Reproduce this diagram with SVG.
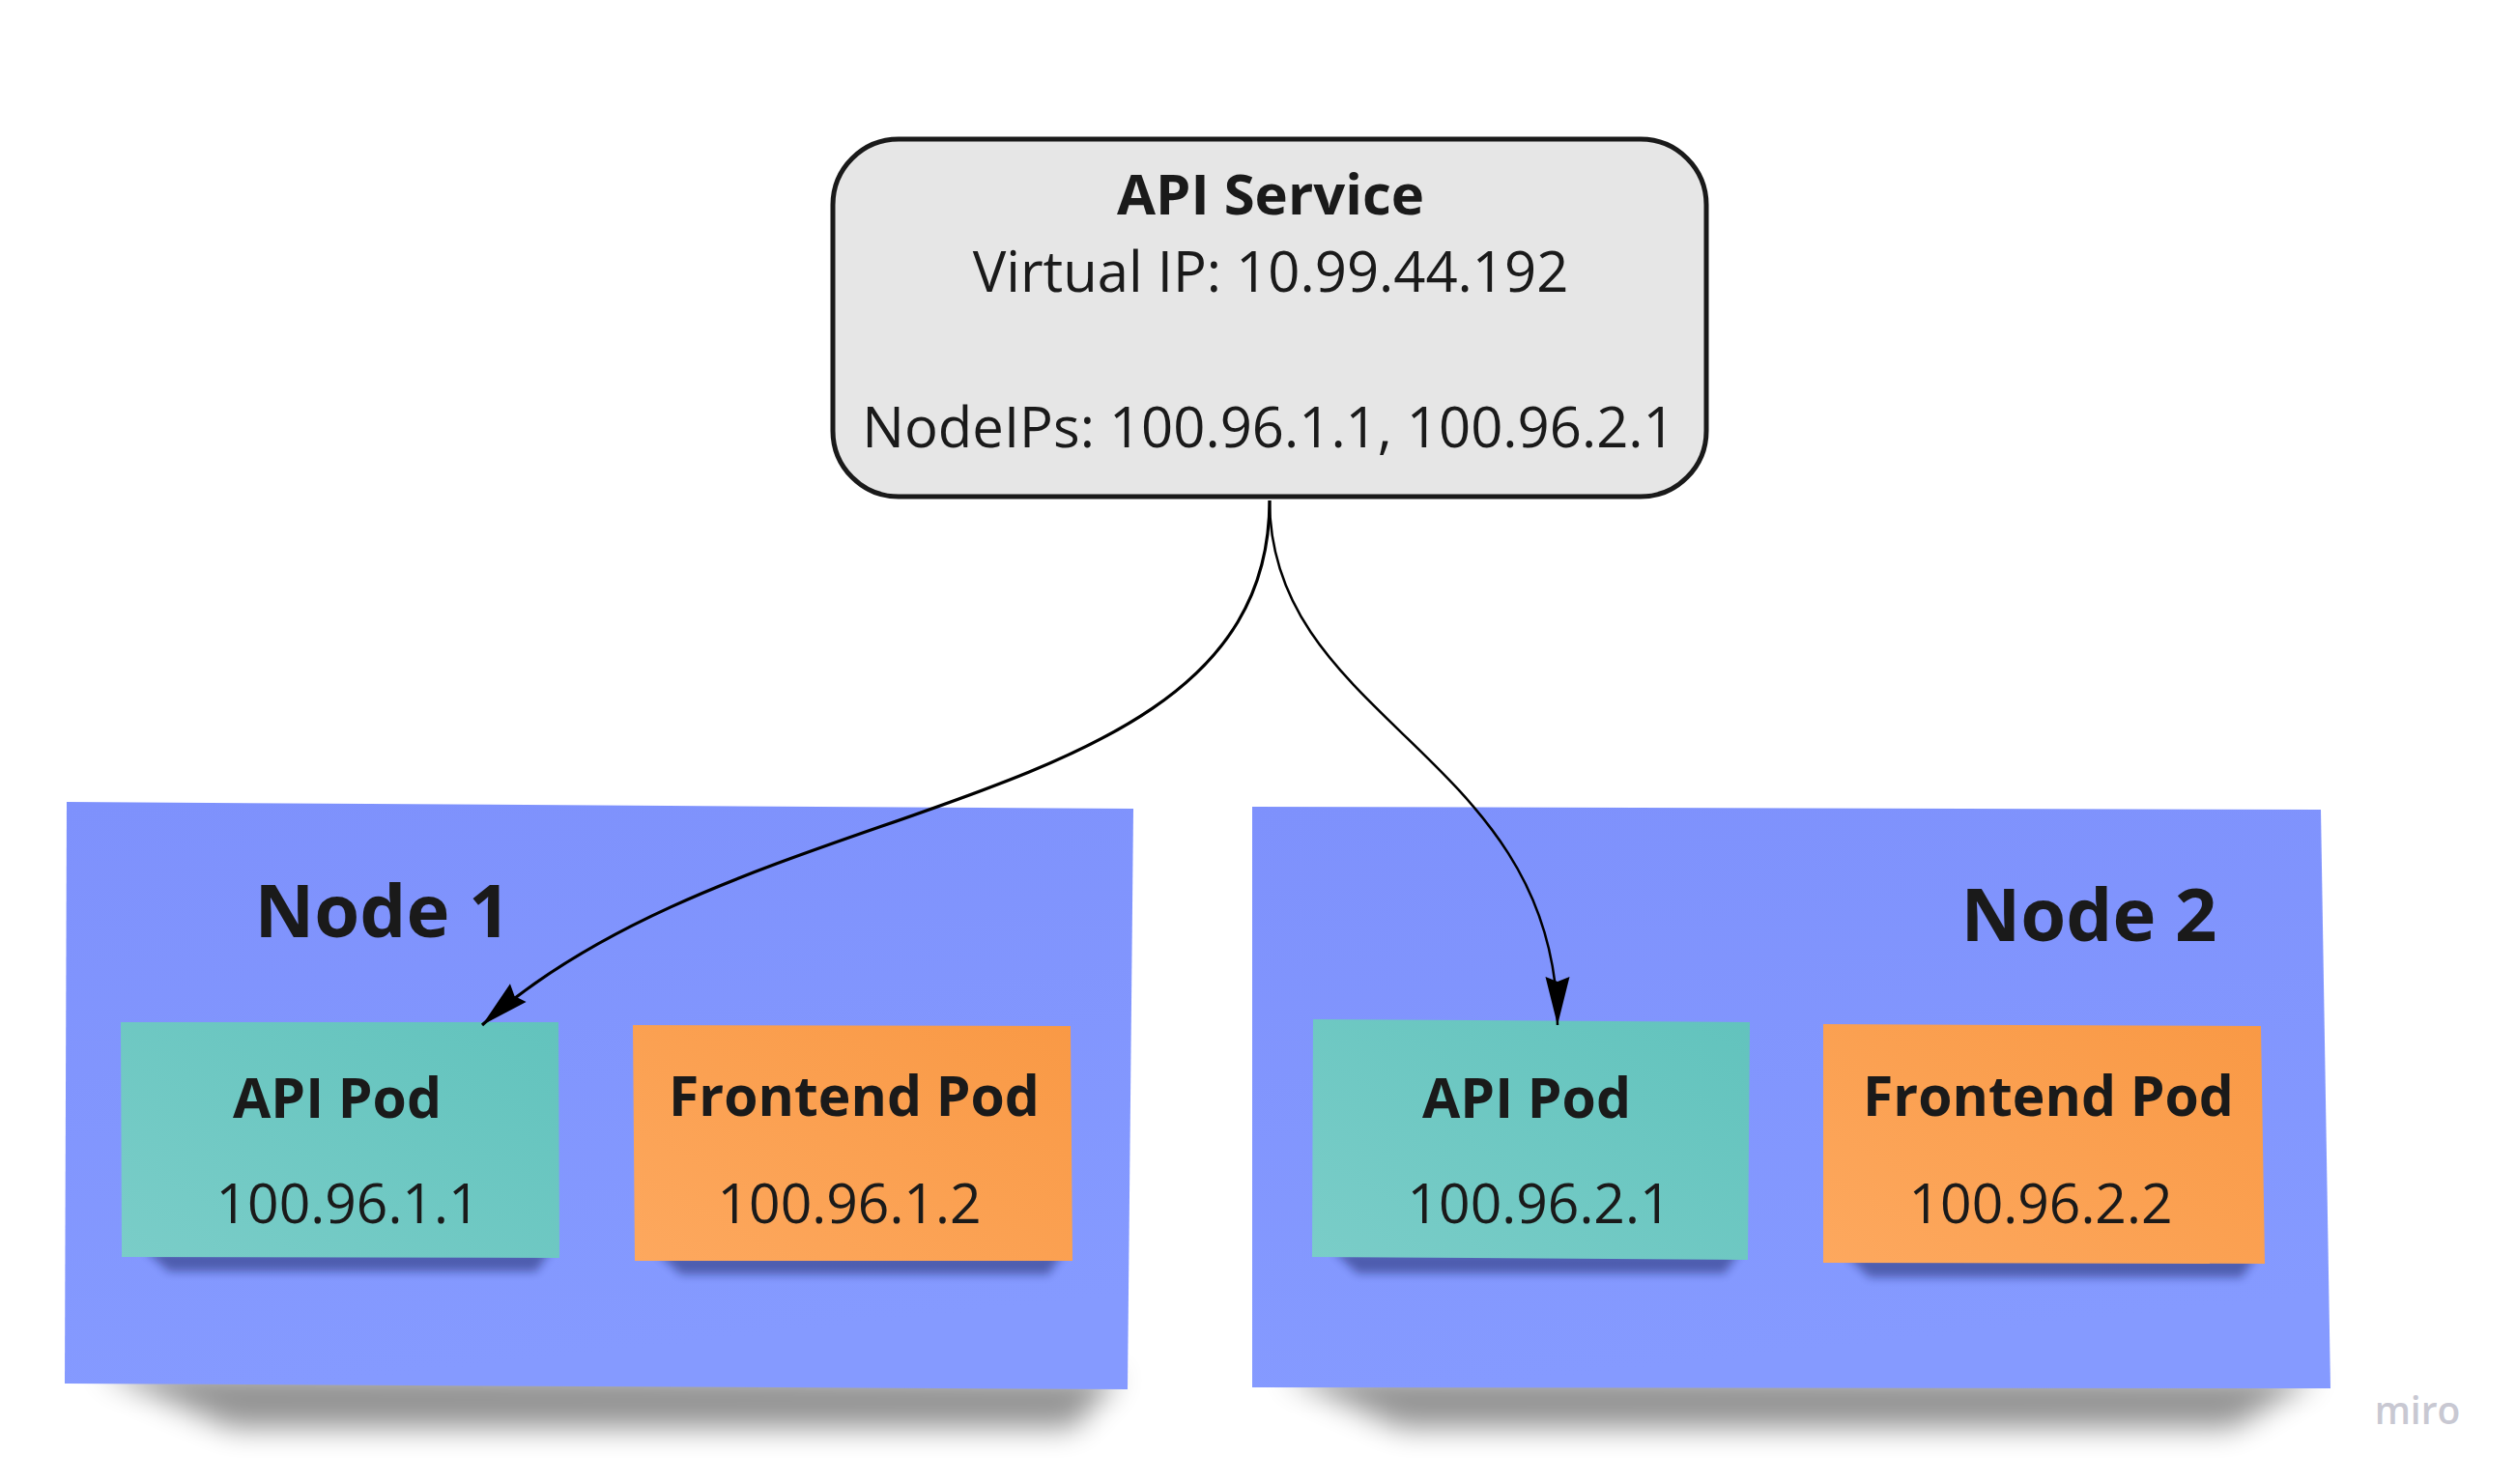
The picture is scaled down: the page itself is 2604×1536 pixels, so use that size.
<svg xmlns="http://www.w3.org/2000/svg" width="2604" height="1536" viewBox="0 0 2604 1536">
  <style>
    .t { font-family: "Open Sans", "Noto Sans", "Liberation Sans", sans-serif; fill: #1a1a1a; text-anchor: middle; }
    .b { font-weight: 700; }
    .svc { font-size: 58px; }
    .pod { font-size: 57px; }
    .ttl { font-size: 76px; font-weight: 700; }
    .conn { fill: none; stroke: #000; }
    .shadowN { fill: #000; opacity: 0.42; filter: url(#blurN); }
    .shadowP { fill: #101850; opacity: 0.45; filter: url(#blurP); }
  </style>
  <defs>
    <linearGradient id="gNode" x1="0" y1="0" x2="0.2" y2="1">
      <stop offset="0" stop-color="#7e91fc"/>
      <stop offset="1" stop-color="#859aff"/>
    </linearGradient>
    <linearGradient id="gTeal" x1="1" y1="0" x2="0" y2="1">
      <stop offset="0" stop-color="#62c3bd"/>
      <stop offset="1" stop-color="#7acdc8"/>
    </linearGradient>
    <linearGradient id="gOrange" x1="1" y1="0" x2="0" y2="1">
      <stop offset="0" stop-color="#f99945"/>
      <stop offset="1" stop-color="#fda85e"/>
    </linearGradient>
    <filter id="blurN" x="-20%" y="-100%" width="140%" height="300%">
      <feGaussianBlur stdDeviation="15"/>
    </filter>
    <filter id="blurP" x="-20%" y="-100%" width="140%" height="300%">
      <feGaussianBlur stdDeviation="5"/>
    </filter>
    <marker id="arrow" markerUnits="userSpaceOnUse" viewBox="-52 -14 54 28" refX="0" refY="0" markerWidth="54" markerHeight="28" orient="auto">
      <path d="M0,0 L-50,-12.5 L-45,0 L-50,12.5 Z" fill="#000"/>
    </marker>
  </defs>

  <rect width="2604" height="1536" fill="#ffffff"/>

  <g id="node1">
    <polygon class="shadowN" points="100,1418 1160,1424 1110,1478 240,1478"/>
    <polygon points="69,830 1173,837 1167,1438 67,1432" fill="url(#gNode)"/>
    <text class="t ttl" x="396" y="970">Node 1</text>
  </g>

  <g id="node2">
    <polygon class="shadowN" points="1325,1422 2400,1424 2310,1478 1450,1478"/>
    <polygon points="1296,835 2402,838 2412,1437 1296,1436" fill="url(#gNode)"/>
    <text class="t ttl" x="2162" y="974">Node 2</text>
  </g>

  <g id="api-pod-1">
    <polygon class="shadowP" points="150,1294 570,1294 555,1316 175,1316"/>
    <polygon points="125,1058 578,1058 579,1302 126,1301" fill="url(#gTeal)"/>
    <text class="t b pod" x="349" y="1157">API Pod</text>
    <text class="t pod" x="360" y="1266">100.96.1.1</text>
  </g>

  <g id="frontend-pod-1">
    <polygon class="shadowP" points="680,1297 1100,1297 1085,1319 705,1319"/>
    <polygon points="655,1061 1108,1062 1110,1305 657,1305" fill="url(#gOrange)"/>
    <text class="t b pod" x="884" y="1155">Frontend Pod</text>
    <text class="t pod" x="879" y="1266">100.96.1.2</text>
  </g>

  <g id="api-pod-2">
    <polygon class="shadowP" points="1380,1295 1800,1296 1785,1318 1405,1318"/>
    <polygon points="1359,1055 1811,1058 1809,1304 1358,1301" fill="url(#gTeal)"/>
    <text class="t b pod" x="1580" y="1157">API Pod</text>
    <text class="t pod" x="1593" y="1266">100.96.2.1</text>
  </g>

  <g id="frontend-pod-2">
    <polygon class="shadowP" points="1910,1299 2335,1300 2320,1322 1935,1322"/>
    <polygon points="1887,1060 2340,1062 2344,1308 1887,1307" fill="url(#gOrange)"/>
    <text class="t b pod" x="2120" y="1155">Frontend Pod</text>
    <text class="t pod" x="2112" y="1266">100.96.2.2</text>
  </g>

  <g id="api-service">
    <rect x="862" y="144" width="904" height="370" rx="68" ry="68" fill="#e6e6e6" stroke="#1a1a1a" stroke-width="5"/>
    <text class="t b svc" x="1315" y="222">API Service</text>
    <text class="t svc" x="1315" y="302">Virtual IP: 10.99.44.192</text>
    <text class="t svc" x="1313" y="463">NodeIPs: 100.96.1.1, 100.96.2.1</text>
  </g>

  <g id="connectors">
    <path class="conn" stroke-width="3.2" d="M1314,518 C1314,850 780,810 499,1061" marker-end="url(#arrow)"/>
    <path class="conn" stroke-width="2.5" d="M1314,518 C1314,747 1612,781 1612,1061" marker-end="url(#arrow)"/>
  </g>

  <text id="miro" x="2502" y="1474" style="font-family: 'Open Sans', 'Liberation Sans', sans-serif; font-size: 39px; font-weight: 600; fill: #c8c8d2; text-anchor: middle;">miro</text>
</svg>
